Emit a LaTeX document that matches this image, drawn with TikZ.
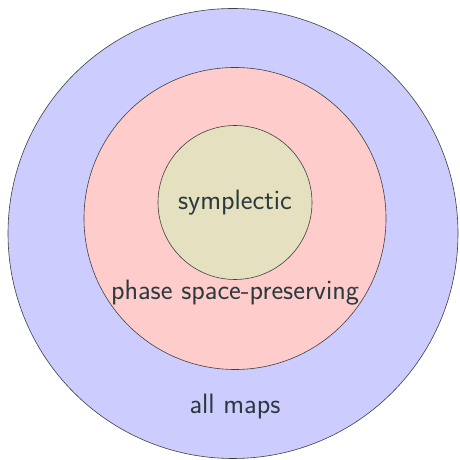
\documentclass[tikz,border=0pt]{standalone}
\usepackage{tikz}
\usetikzlibrary{positioning}
\definecolor{mapsblue}{RGB}{204,204,255}
\definecolor{phasered}{RGB}{255,204,204}
\definecolor{symplolive}{RGB}{229,225,192}
\definecolor{labelgray}{RGB}{44,58,62}
\begin{document}
\begin{tikzpicture}[
    x=1pt, y=1pt,
    region/.style={draw=black!75, circle, line width=0.6pt, inner sep=0pt},
    setlabel/.style={font=\sffamily\fontsize{28}{32}\selectfont, text=labelgray}
]
\useasboundingbox (0,0) rectangle (459,460);

% Nested sets
\node[region, fill=mapsblue, minimum size=450pt] (allmaps) at (233,226.5) {};
\node[region, fill=phasered, minimum size=302pt] (phase) at (235,241.5) {};
\node[region, fill=symplolive, minimum size=154pt] (sympl) at (235,257.5) {};

% Labels
\node[setlabel] (symlabel) at (sympl.center) {symplectic};
\node[setlabel] (phaselabel) at (235,167) {phase space-preserving};
\node[setlabel] (mapslabel) at (235,53) {all maps};
\end{tikzpicture}
\end{document}
